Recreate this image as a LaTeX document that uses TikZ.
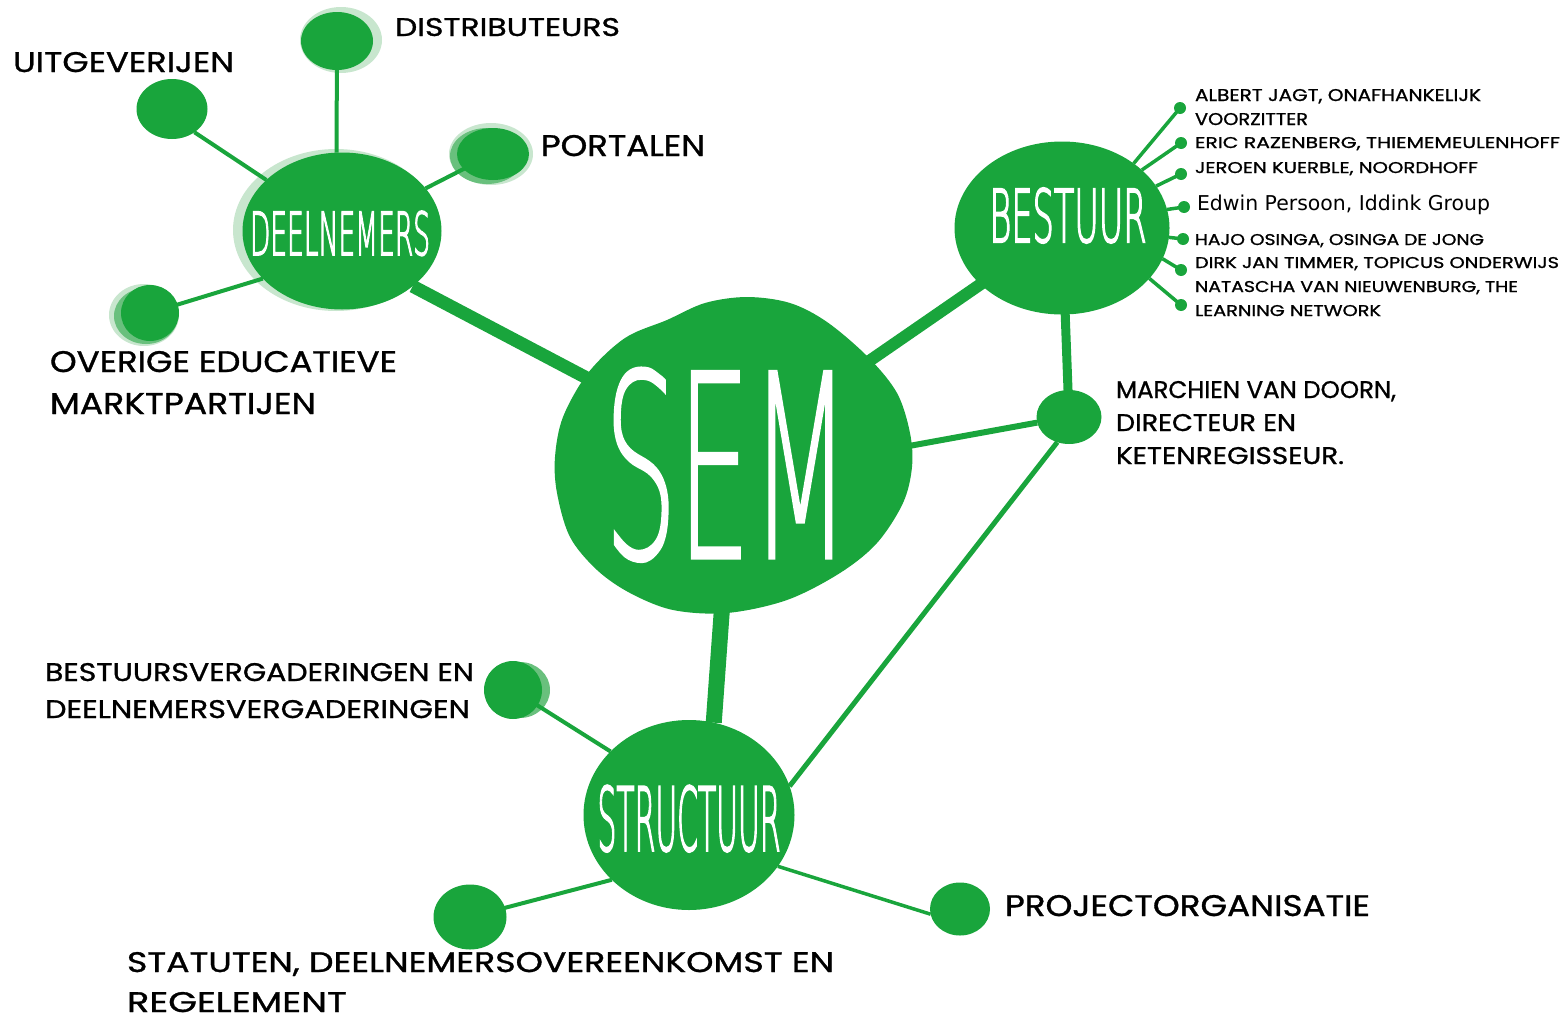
\documentclass[tikz,border=0pt]{standalone}
\usepackage{graphicx}
\usepackage{fontspec}
\usetikzlibrary{shapes.geometric}
\setmainfont[FakeBold=1]{Poppins}
\newfontfamily\handfont[FakeBold=3]{DejaVu Sans ExtraLight}
\newfontfamily\bighandfont[FakeBold=1.2]{DejaVu Sans ExtraLight}
\newfontfamily\plainfont{DejaVu Sans}
\definecolor{semgreen}{RGB}{25,165,60}
\definecolor{midgreen}{RGB}{105,192,125}
\definecolor{palegreen}{RGB}{200,230,206}
\pgfdeclarelayer{bg}
\pgfsetlayers{bg,main}
\newcommand{\fitline}[3]{\resizebox{#1pt}{#2pt}{#3}}
\newcommand{\ctitle}[5]{\smash{\rlap{\hspace*{\dimexpr #1pt-#3pt/2\relax}\raisebox{\dimexpr #2pt-#4pt/2\relax}{\resizebox{#3pt}{#4pt}{\color{white}#5}}}}}
\tikzset{
  hub/.style={shape=ellipse, fill=semgreen, inner sep=0pt, outer sep=0pt, minimum width=#1},
  dot/.style={shape=circle, fill=semgreen, inner sep=0pt, outer sep=0pt, minimum size=12pt},
  lbl/.style={anchor=north west, inner sep=0pt, outer sep=0pt, align=left, text=black, font=\fontsize{20}{#1pt}\selectfont},
  link/.style={draw=semgreen, line width=#1},
}
\begin{document}
\begin{tikzpicture}[x=1pt,y=-1pt]
\useasboundingbox (0,0) rectangle (1562,1017);

% central blob
\fill[semgreen] plot[smooth cycle,tension=0.55] coordinates {(588,373) (625,338) (667,320) (705,303) (747,297) (790,303) (827,322) (868,357) (897,393) (910,433) (912,467) (903,503) (877,543) (840,573) (787,600) (727,613) (673,610) (630,593) (597,570) (570,537) (557,493) (555,457) (563,417)};
\node[shape=ellipse,inner sep=0pt,outer sep=0pt,minimum width=356pt,minimum height=316pt] (sem) at (733,455) {\ctitle{-6}{-8}{246}{190}{\bighandfont SEM}};

% hubs
\node[hub=199pt,minimum height=157pt] (deel) at (342,231) {\ctitle{-2}{-2}{180}{44}{\handfont DEELNEMERS}};
\node[hub=215pt,minimum height=173pt] (best) at (1062,228) {\ctitle{6}{13}{157}{54}{\handfont BESTUUR}};
\node[hub=211pt,minimum height=190pt] (stru) at (689,815) {\ctitle{0}{-3}{183}{65}{\handfont STRUCTUUR}};

% leaves
\node[hub=71pt,minimum height=60pt] (uitg) at (172,109) {};
\node[hub=72pt,minimum height=58pt] (dist) at (337,41) {};
\node[hub=72pt,minimum height=52pt] (port) at (493,154) {};
\node[hub=58pt,minimum height=56pt] (over) at (150,313) {};
\node[hub=65pt,minimum height=54pt] (marc) at (1069,417) {};
\node[hub=58pt,minimum height=58pt] (bver) at (513,690) {};
\node[hub=73pt,minimum height=65pt] (stat) at (470,917) {};
\node[hub=60pt,minimum height=53pt] (proj) at (960,909) {};

% small dots of the board
\node[dot] (d1) at (1180,108) {};
\node[dot] (d2) at (1181,143) {};
\node[dot] (d3) at (1181,174) {};
\node[dot] (d4) at (1184,207) {};
\node[dot] (d5) at (1183,239) {};
\node[dot] (d6) at (1181,270) {};
\node[dot] (d7) at (1181,305) {};

\begin{pgfonlayer}{bg}
  % hand-painted halos
  \fill[palegreen] (336,230) ellipse [x radius=103pt, y radius=81pt];
  \fill[palegreen] (341,40) ellipse [x radius=41pt, y radius=33pt];
  \fill[palegreen] (491,154) ellipse [x radius=42pt, y radius=31pt];
  \fill[midgreen] (487,156) ellipse [x radius=37pt, y radius=28pt];
  \fill[palegreen] (144,315) ellipse [x radius=35pt, y radius=31pt];
  \fill[midgreen] (146,316) ellipse [x radius=32pt, y radius=28pt];
  \fill[midgreen] (520,690) ellipse [x radius=30pt, y radius=28pt];
  % connectors
  \draw[link=13pt] (sem.center) -- (deel.-38);
  \draw[link=12pt] (sem.center) -- (best.center);
  \draw[link=16pt] (sem.center) -- (stru.75);
  \draw[link=6pt] (sem.3) -- (marc.190);
  \draw[link=9pt] (best.center) -- (marc.center);
  \draw[link=5pt] (stru.16) -- (marc.-115);
  \draw[link=4pt] (uitg.-46) -- (deel.146);
  \draw[link=4pt] (dist.center) -- (deel.94);
  \draw[link=4pt] (port.center) -- (deel.27);
  \draw[link=4pt] (over.center) -- (deel.211);
  \draw[link=4pt] (bver.center) -- (stru.141);
  \draw[link=4pt] (stat.center) -- (stru.220);
  \draw[link=3.5pt] (stru.-30) -- (proj.190);
  \draw[link=3.5pt] (best.42) -- (d1.center);
  \draw[link=3.5pt] (best.36) -- (d2.center);
  \draw[link=3.5pt] (best.24) -- (d3.center);
  \draw[link=3.5pt] (best.10) -- (d4.center);
  \draw[link=3.5pt] (best.-5) -- (d5.center);
  \draw[link=3.5pt] (best.-17) -- (d6.center);
  \draw[link=3.5pt] (best.-30) -- (d7.center);
\end{pgfonlayer}

% labels
\node[lbl=24] (l1) at (13,52) {\fitline{221}{20}{UITGEVERIJEN}};
\node[lbl=24] (l2) at (395,18) {\fitline{225}{18}{DISTRIBUTEURS}};
\node[lbl=24] (l3) at (541,135) {\fitline{164}{21}{PORTALEN}};
\node[lbl=42] (l4) at (50,351) {\fitline{347}{21}{OVERIGE EDUCATIEVE}\\\fitline{266}{21}{MARKTPARTIJEN}};
\node[lbl=33] (l5) at (1116,381) {\fitline{280}{17}{MARCHIEN VAN DOORN,}\\\fitline{180}{17}{DIRECTEUR EN}\\\fitline{228}{17}{KETENREGISSEUR.}};
\node[lbl=37] (l6) at (45,663) {\fitline{429}{18}{BESTUURSVERGADERINGEN EN}\\\fitline{425}{18}{DEELNEMERSVERGADERINGEN}};
\node[lbl=24] (l7) at (1005,895) {\fitline{365}{21}{PROJECTORGANISATIE}};
\node[lbl=40] (l8) at (127,952) {\fitline{707}{20}{STATUTEN, DEELNEMERSOVEREENKOMST EN}\\\fitline{220}{20}{REGELEMENT}};

\node[lbl=24] (b1) at (1195,89) {\fitline{286}{12}{ALBERT JAGT, ONAFHANKELIJK}\\\fitline{113}{12}{VOORZITTER}};
\node[lbl=24] (b2) at (1195,137) {\fitline{365}{11}{ERIC RAZENBERG, THIEMEMEULENHOFF}};
\node[lbl=24] (b3) at (1195,162) {\fitline{283}{11}{JEROEN KUERBLE, NOORDHOFF}};
\node[lbl=24,anchor=base west] (b4) at (1197,210) {\resizebox{293pt}{!}{\plainfont Edwin Persoon, Iddink Group}};
\node[lbl=24] (b5) at (1195,234) {\fitline{289}{11}{HAJO OSINGA, OSINGA DE JONG}};
\node[lbl=24] (b6) at (1195,257) {\fitline{364}{11}{DIRK JAN TIMMER, TOPICUS ONDERWIJS}};
\node[lbl=24] (b7) at (1195,281) {\fitline{323}{11}{NATASCHA VAN NIEUWENBURG, THE}\\\fitline{186}{11}{LEARNING NETWORK}};
\end{tikzpicture}
\end{document}
